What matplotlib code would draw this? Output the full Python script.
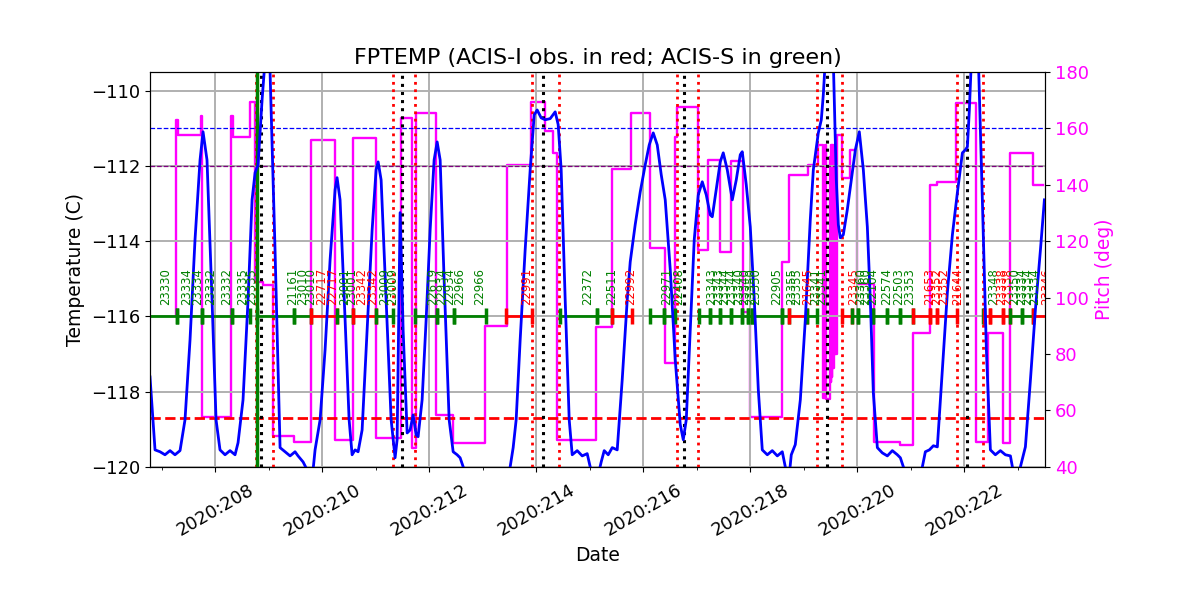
import matplotlib
matplotlib.use('Agg')
import matplotlib.pyplot as plt
import matplotlib.transforms as mtransforms
from matplotlib.ticker import FixedLocator, MultipleLocator

# ---------------- data ----------------
temp_days = [206.785, 206.879, 206.972, 207.065, 207.159, 207.252, 207.346,
 207.439, 207.533, 207.626, 207.720, 207.776,
 207.850, 207.944, 208.019, 208.093,
 208.187, 208.280, 208.374,
 208.430, 208.523, 208.617, 208.692, 208.748, 208.804, 208.879, 208.935, 208.972,
 209.028, 209.121, 209.215,
 209.308, 209.402, 209.495, 209.551, 209.645, 209.720, 209.776,
 209.832, 209.869, 209.963, 210.056, 210.150, 210.243, 210.280,
 210.336, 210.430, 210.505, 210.561,
 210.617, 210.673,
 210.748, 210.841, 210.935, 211.009, 211.047,
 211.103, 211.196, 211.290, 211.364,
 211.402, 211.458, 211.514, 211.589, 211.645, 211.701, 211.757, 211.794,
 211.869, 211.944, 212.019, 212.093, 212.150,
 212.206, 212.280, 212.374, 212.449,
 212.523, 212.579, 212.636, 212.692,
 213.477, 213.514, 213.570, 213.626, 213.701, 213.794, 213.888, 213.963, 214.019,
 214.093, 214.168, 214.262, 214.355, 214.411, 214.467, 214.542, 214.617, 214.673,
 214.766, 214.860, 214.953, 215.009, 215.065,
 215.159, 215.215, 215.271, 215.346, 215.421, 215.514,
 215.607, 215.701, 215.757, 215.850, 215.944, 216.037, 216.112, 216.187,
 216.262, 216.336, 216.411, 216.505, 216.598, 216.692, 216.748,
 216.804, 216.879, 216.953, 217.028, 217.103, 217.178, 217.252, 217.290, 217.364, 217.439, 217.495, 217.570, 217.664, 217.738, 217.813, 217.850,
 217.925, 218.000, 218.075, 218.150, 218.224,
 218.318, 218.411, 218.505, 218.598, 218.654, 218.692,
 218.729, 218.766, 218.841, 218.935, 219.028, 219.121, 219.178, 219.271, 219.327, 219.364, 219.402, 219.477,
 219.551, 219.607, 219.645, 219.682, 219.738, 219.813, 219.888, 219.963, 220.037,
 220.112, 220.187, 220.243, 220.299, 220.374,
 220.467, 220.561, 220.654, 220.748, 220.804, 220.860, 220.916,
 221.178, 221.215, 221.271, 221.346, 221.421, 221.495, 221.589, 221.682, 221.776, 221.869, 221.963, 222.019, 222.056, 222.093, 222.131, 222.187, 222.262,
 222.336, 222.411, 222.486,
 222.579, 222.673, 222.766, 222.860, 222.897, 222.935,
 223.009, 223.047, 223.140, 223.234, 223.327, 223.421, 223.495]

temp_vals = [-117.61, -119.55, -119.60, -119.68, -119.57, -119.68, -119.57,
 -118.75, -116.62, -113.96, -111.84, -111.09,
 -111.84, -115.56, -118.75, -119.55,
 -119.68, -119.57, -119.68,
 -119.36, -118.22, -115.56, -112.90, -112.18, -111.97, -110.24, -109.18, -108.64,
 -109.49, -114.23, -119.49,
 -119.60, -119.71, -119.60, -119.71, -119.87, -120.08, -120.20,
 -120.08, -119.55, -118.75, -116.89, -114.49, -112.63, -112.31,
 -112.90, -116.09, -118.75, -119.68,
 -119.55, -119.60,
 -119.02, -116.36, -113.70, -112.10, -111.89,
 -112.37, -115.56, -118.75, -119.76,
 -119.28, -113.24, -116.36, -119.10, -119.02, -118.62, -119.15, -119.20,
 -118.22, -116.09, -113.70, -111.84, -111.36,
 -111.84, -115.03, -118.75, -119.60,
 -119.68, -119.76, -120.00, -120.21,
 -120.21, -120.00, -119.49, -118.75, -116.62, -114.23, -112.10, -110.64, -110.51,
 -110.72, -110.77, -110.74, -110.56, -110.90, -112.10, -115.56, -118.75, -119.68,
 -119.57, -119.71, -119.65, -120.00, -120.21,
 -120.21, -119.87, -119.57, -119.68, -119.49, -119.55,
 -117.69, -115.56, -114.55, -113.56, -112.69, -111.97, -111.44, -111.12,
 -111.44, -112.23, -112.90, -114.76, -117.15, -118.88, -119.28,
 -118.75, -116.36, -113.96, -112.77, -112.42, -112.77, -113.30, -113.35, -112.63, -111.89, -111.65, -112.10, -112.90, -112.37, -111.70, -111.62,
 -112.50, -113.62, -115.56, -117.95, -119.55,
 -119.68, -119.57, -119.71, -119.60, -120.00, -120.21,
 -120.21, -119.68, -119.41, -118.22, -116.09, -113.43, -112.10, -111.12, -110.77, -110.11, -109.18, -108.38,
 -109.18, -112.37, -113.56, -113.91, -113.83, -113.16, -112.37, -111.57, -111.09,
 -112.10, -113.62, -115.56, -118.03, -119.49,
 -119.63, -119.71, -119.57, -119.68, -119.76, -120.00, -120.21,
 -120.21, -120.00, -119.60, -119.55, -119.44, -119.47, -117.42, -115.37, -113.83, -112.71, -111.65, -111.57, -111.49, -110.51, -109.18, -108.38, -109.18,
 -112.90, -116.89, -119.55,
 -119.68, -119.57, -119.68, -119.71, -120.00, -120.21,
 -120.21, -120.00, -119.47, -117.69, -115.82, -114.23, -112.90]

pitch_days = [207.271, 207.280, 207.308, 207.738, 207.757, 208.299, 208.336, 208.654, 208.748, 208.897,
 209.084, 209.477, 209.794, 210.243, 210.579, 211.009, 211.477, 211.682, 211.757, 212.131,
 212.449, 213.047, 213.458, 213.907, 214.168, 214.318, 214.393, 215.121, 215.421, 215.776,
 216.131, 216.411, 216.598, 216.636, 217.028, 217.215, 217.439, 217.645, 217.869, 218.000,
 218.598, 218.729, 219.084, 219.271, 219.364, 219.402, 219.421, 219.495, 219.505, 219.514,
 219.523, 219.533, 219.551, 219.561, 219.570, 219.579, 219.589, 219.626, 219.720, 219.869,
 220.000, 220.318, 220.804, 221.047, 221.364, 221.495, 221.850, 222.224, 222.449, 222.729,
 222.860, 223.290, 223.477]
pitch_vals = [93.9, 163.0, 157.7, 164.4, 57.7, 164.4, 157.0, 169.4, 105.6, 104.5,
 51.0, 48.9, 155.9, 49.6, 156.6, 50.3, 163.7, 46.7, 165.5, 58.4,
 48.5, 90.0, 147.1, 169.4, 159.1, 151.3, 49.6, 89.6, 145.6, 165.5,
 117.6, 76.9, 157.0, 167.6, 116.9, 148.8, 116.2, 148.5, 95.0, 57.7,
 112.7, 143.5, 147.1, 154.1, 64.5, 154.0, 64.0, 150.0, 70.0, 154.0,
 72.0, 154.0, 75.0, 154.0, 80.0, 154.0, 80.0, 157.7, 142.4, 152.4,
 105.0, 48.9, 47.8, 87.5, 140.0, 141.0, 169.0, 48.9, 87.5, 48.5,
 151.3, 140.0, 140.0]

obs_start = [206.505, 207.284, 207.751, 208.318, 208.785, 209.477, 209.794, 210.275, 210.574, 211.009,
 211.738, 212.144, 212.467, 213.434, 214.436, 215.134, 215.415, 216.131, 216.379, 217.047,
 217.243, 217.439, 217.636, 217.841, 217.953, 218.037, 218.598, 218.716, 219.060, 219.714,
 219.901, 220.019, 220.299, 220.561, 220.804, 221.047, 221.364, 221.495, 222.350, 222.365,
 222.477, 222.723, 222.860, 223.084, 223.290]
obs_stop = [207.284, 207.751, 208.318, 208.654, 209.477, 209.794, 210.275, 210.574, 211.009, 211.321,
 212.144, 212.467, 213.060, 213.920, 215.134, 215.415, 215.789, 216.379, 216.598, 217.243,
 217.439, 217.636, 217.841, 217.953, 218.037, 218.598, 218.716, 219.060, 219.247, 219.901,
 220.019, 220.299, 220.561, 220.804, 221.047, 221.364, 221.495, 221.869, 222.365, 222.477,
 222.723, 222.860, 223.084, 223.290, 223.800]
obs_instr = "SSSSSSISISSSSISSISS" + "SSSSSSS" + "SIS" + "ISSSSS" + "III" + "SIIISSI"

label_days = [206.985, 207.378, 207.589, 207.832, 208.125, 208.430, 208.598, 209.359, 209.551, 209.701,
 209.901, 210.112, 210.336, 210.462, 210.649, 210.865, 211.084, 211.239, 211.987, 212.144,
 212.299, 212.486, 212.860, 213.733, 214.879, 215.333, 215.682, 216.350, 216.579, 217.196,
 217.318, 217.439, 217.570, 217.692, 217.804, 217.916, 218.019, 218.406, 218.686, 218.779,
 218.981, 219.140, 219.247, 219.850, 219.981, 220.075, 220.196, 220.462, 220.679, 220.897,
 221.271, 221.396, 221.520, 221.794, 222.467, 222.617, 222.729, 222.860, 222.991, 223.103,
 223.234, 223.458]
label_text = ['23330', '23334', '23334', '23332', '23332', '23335', '23335', '21161', '23010', '23010',
 '22717', '22717', '23001', '23001', '23342', '23342', '23009', '23009', '22619', '22934',
 '22934', '22966', '22966', '22991', '22372', '22511', '22992', '22971', '22408', '23343',
 '23343', '23344', '23344', '23340', '23340', '23350', '23350', '22905', '23355', '23355',
 '21645', '23341', '23341', '23345', '23360', '23360', '22104', '22574', '22503', '23353',
 '21653', '23352', '23352', '21644', '23348', '23338', '23338', '23350', '23334', '23334',
 '23334', '23346']
label_instr = ("SSSSSSSSSS" + "II" + "SS" + "II" + "SS" + "S" + "SS" + "SS" + "I" + "S" + "S" + "I"
               + "S" + "S" + "SSSSSSSS" + "S" + "SS" + "I" + "SS" + "I" + "SS" + "S" + "S" + "S" + "S"
               + "I" + "II" + "I" + "S" + "II" + "S" + "SSS" + "I")

rad_days = [208.77, 209.084, 211.327, 211.738, 213.925, 214.430, 216.636, 217.028,
            219.252, 219.720, 221.869, 222.355]
perigee_days = [208.860, 211.495, 214.131, 216.766, 219.439, 222.056]
now_day = 208.785

limit_planning = -111.0
limit_yellow = -112.0
limit_acis_i = -118.7
timeline_level = -116.0

xtick_days = [208, 210, 212, 214, 216, 218, 220, 222]
xtick_labels = ['2020:%03d' % d for d in xtick_days]
instr_color = {'I': 'red', 'S': 'green'}

# ---------------- plot ----------------
fig = plt.figure(figsize=(12, 6), dpi=100)
ax = fig.add_axes([0.125, 0.222, 0.746, 0.658])
ax2 = ax.twinx()
ax.set_zorder(ax2.get_zorder() + 1)
ax.patch.set_visible(False)

ax2.plot(pitch_days, pitch_vals, color='magenta', lw=1.7, drawstyle='steps-post')
ax2.set_ylim(40, 180)
ax2.set_ylabel('Pitch (deg)', color='magenta', fontsize=13.5)
ax2.tick_params(axis='y', labelcolor='magenta', labelsize=13)

ax.grid(True, color='#b0b0b0', lw=1.4)
ax.axhline(limit_planning, color='blue', ls='--', lw=0.9)
ax.axhline(limit_yellow, color='purple', ls='--', lw=0.9)
ax.axhline(limit_acis_i, color='red', ls='--', lw=2)

for d in rad_days:
    ax.axvline(d, color='red', ls=':', lw=2)
for d in perigee_days:
    ax.axvline(d, color='black', ls=':', lw=2.2)
ax.axvline(now_day, color='green', lw=2.5)

for s, e, ins in zip(obs_start, obs_stop, obs_instr):
    ax.plot([s, e], [timeline_level, timeline_level], color=instr_color[ins], lw=2,
            marker='|', ms=11, mew=2.5, solid_capstyle='butt')

off = mtransforms.offset_copy(ax.transData, fig=fig, x=3.3, y=0, units='points')
for d, t, ins in zip(label_days, label_text, label_instr):
    ax.text(d, timeline_level + 0.3, t, rotation=90, color=instr_color[ins],
            fontsize=8.4, ha='center', va='bottom', transform=off, clip_on=True)

ax.plot(temp_days, temp_vals, color='blue', lw=2)

ax.set_xlim(206.785, 223.51)
ax.set_ylim(-120, -109.5)
ax.set_yticks([-120, -118, -116, -114, -112, -110])
ax.xaxis.set_major_locator(FixedLocator(xtick_days))
ax.xaxis.set_minor_locator(MultipleLocator(1))
ax.set_xticklabels(xtick_labels, rotation=30, ha='center')
ax.tick_params(axis='both', labelsize=13)
ax.tick_params(axis='x', pad=6.5)
ax.set_xlabel('Date', fontsize=13.5, labelpad=5)
ax.set_ylabel('Temperature (C)', fontsize=13.5)
ax.set_title('FPTEMP (ACIS-I obs. in red; ACIS-S in green)', fontsize=16)

fig.savefig('out.png', dpi=100)
